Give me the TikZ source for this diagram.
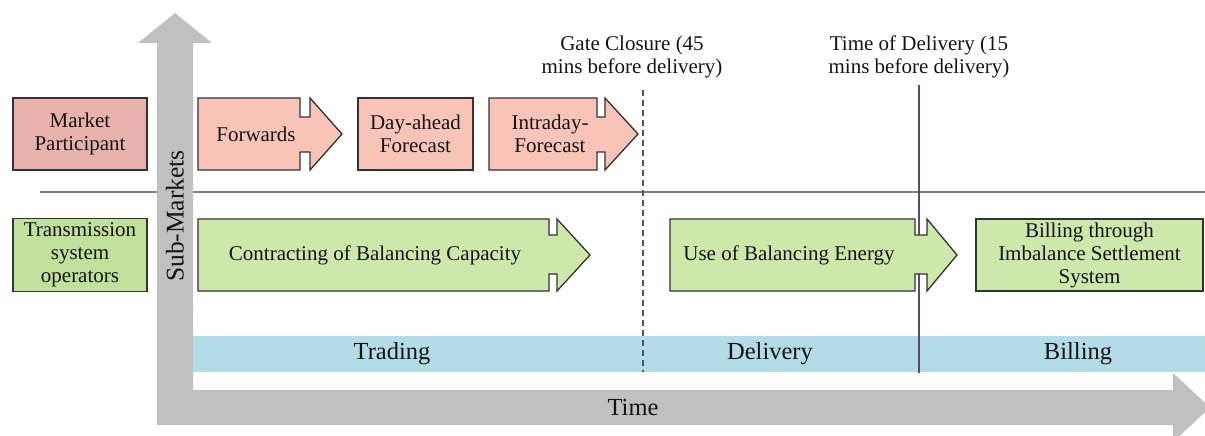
\documentclass[tikz,border=0pt]{standalone}
\usepackage{fontspec}
\setmainfont{Liberation Serif}
\begin{document}
\begin{tikzpicture}[x=1pt,y=-1pt,
  txt/.style={font=\fontsize{21}{23}\selectfont, text=black!92, align=center, inner sep=0pt},
  bigtxt/.style={font=\fontsize{24.5}{28}\selectfont, text=black!92, inner sep=0pt},
  pinkL/.style={fill=pinkdark, draw=black!80, line width=1.3pt},
  pinkA/.style={fill=pinklight, draw=black!80, line width=1.3pt},
  greenL/.style={fill=greendark, draw=black!80, line width=1.3pt},
  greenA/.style={fill=greenlight, draw=black!80, line width=1.3pt},
  marker/.style={draw=markline, line width=1.3pt}]
\definecolor{pinkdark}{RGB}{232,178,172}
\definecolor{pinklight}{RGB}{249,196,184}
\definecolor{greendark}{RGB}{192,224,156}
\definecolor{greenlight}{RGB}{206,231,170}
\definecolor{axisgray}{RGB}{192,192,192}
\definecolor{bandblue}{RGB}{180,220,232}
\definecolor{markline}{RGB}{88,78,108}

\useasboundingbox (0,0) rectangle (1205,436);

% phase band along the time axis
\fill[bandblue] (193,336) rectangle (1205,372);
\node[bigtxt] (trading) at (392,354) {Trading};
\node[bigtxt] (delivery) at (770,354) {Delivery};
\node[bigtxt] (billing) at (1078,354) {Billing};

% separator between the two participant rows
\coordinate (sepL) at (40,192);
\coordinate (sepR) at (1205,192);
\draw[black!50, line width=2pt] (sepL) -- (sepR);

% gate closure and time of delivery markers
\node[txt] (gate) at (632,57) {Gate Closure (45\\mins before delivery)};
\coordinate (gateB) at (643,372);
\draw[marker, dash pattern=on 6pt off 4pt] (643,90) -- (gateB);
\node[txt] (tod) at (919,57) {Time of Delivery (15\\mins before delivery)};
\coordinate (todB) at (919,373);
\draw[marker] (919,85) -- (todB);

% time and sub-market axes
\fill[axisgray] (157,425) -- (157,43) -- (138,43) -- (175,13) -- (212,43) -- (193,43)
  -- (193,390) -- (1173,390) -- (1173,373) -- (1210,407.5) -- (1173,442) -- (1173,425) -- cycle;
\node[bigtxt, font=\fontsize{25.5}{28}\selectfont, rotate=90] (sub) at (175,216) {Sub-Markets};
\node[bigtxt] (time) at (633,408) {Time};

% row headers
\node[pinkL, txt, minimum width=134pt, minimum height=72pt] (mp) at (80,134) {Market\\Participant};
\node[greenL, txt, minimum width=134pt, minimum height=73pt] (tso) at (80,255) {Transmission\\system\\operators};

% market participant products
\draw[pinkA] (198,98) -- (300,98) -- (300,117) -- (310,117) -- (310,98) -- (342,134)
  -- (310,170) -- (310,152) -- (300,152) -- (300,170) -- (198,170) -- cycle;
\node[txt] (fwd) at (256,134) {Forwards};
\node[pinkA, txt, minimum width=115pt, minimum height=72pt] (da) at (415.5,134) {Day-ahead\\Forecast};
\draw[pinkA] (489,98) -- (597,98) -- (597,117) -- (605,117) -- (605,98) -- (638,134)
  -- (605,170) -- (605,152) -- (597,152) -- (597,170) -- (489,170) -- cycle;
\node[txt] (intra) at (550,134) {Intraday-\\Forecast};

% transmission system operator tasks
\draw[greenA] (198,219) -- (549,219) -- (549,235) -- (557,235) -- (557,219) -- (590,255)
  -- (557,291) -- (557,274) -- (549,274) -- (549,291) -- (198,291) -- cycle;
\node[txt] (cap) at (375,255) {Contracting of Balancing Capacity};
\draw[greenA] (670,219) -- (915,219) -- (915,235) -- (927,235) -- (927,219) -- (957,255)
  -- (927,291) -- (927,274) -- (915,274) -- (915,291) -- (670,291) -- cycle;
\node[txt] (energy) at (789,255) {Use of Balancing Energy};
\node[greenA, txt, minimum width=227pt, minimum height=72pt] (settle) at (1089.5,255) {Billing through\\Imbalance Settlement\\System};
\end{tikzpicture}
\end{document}
